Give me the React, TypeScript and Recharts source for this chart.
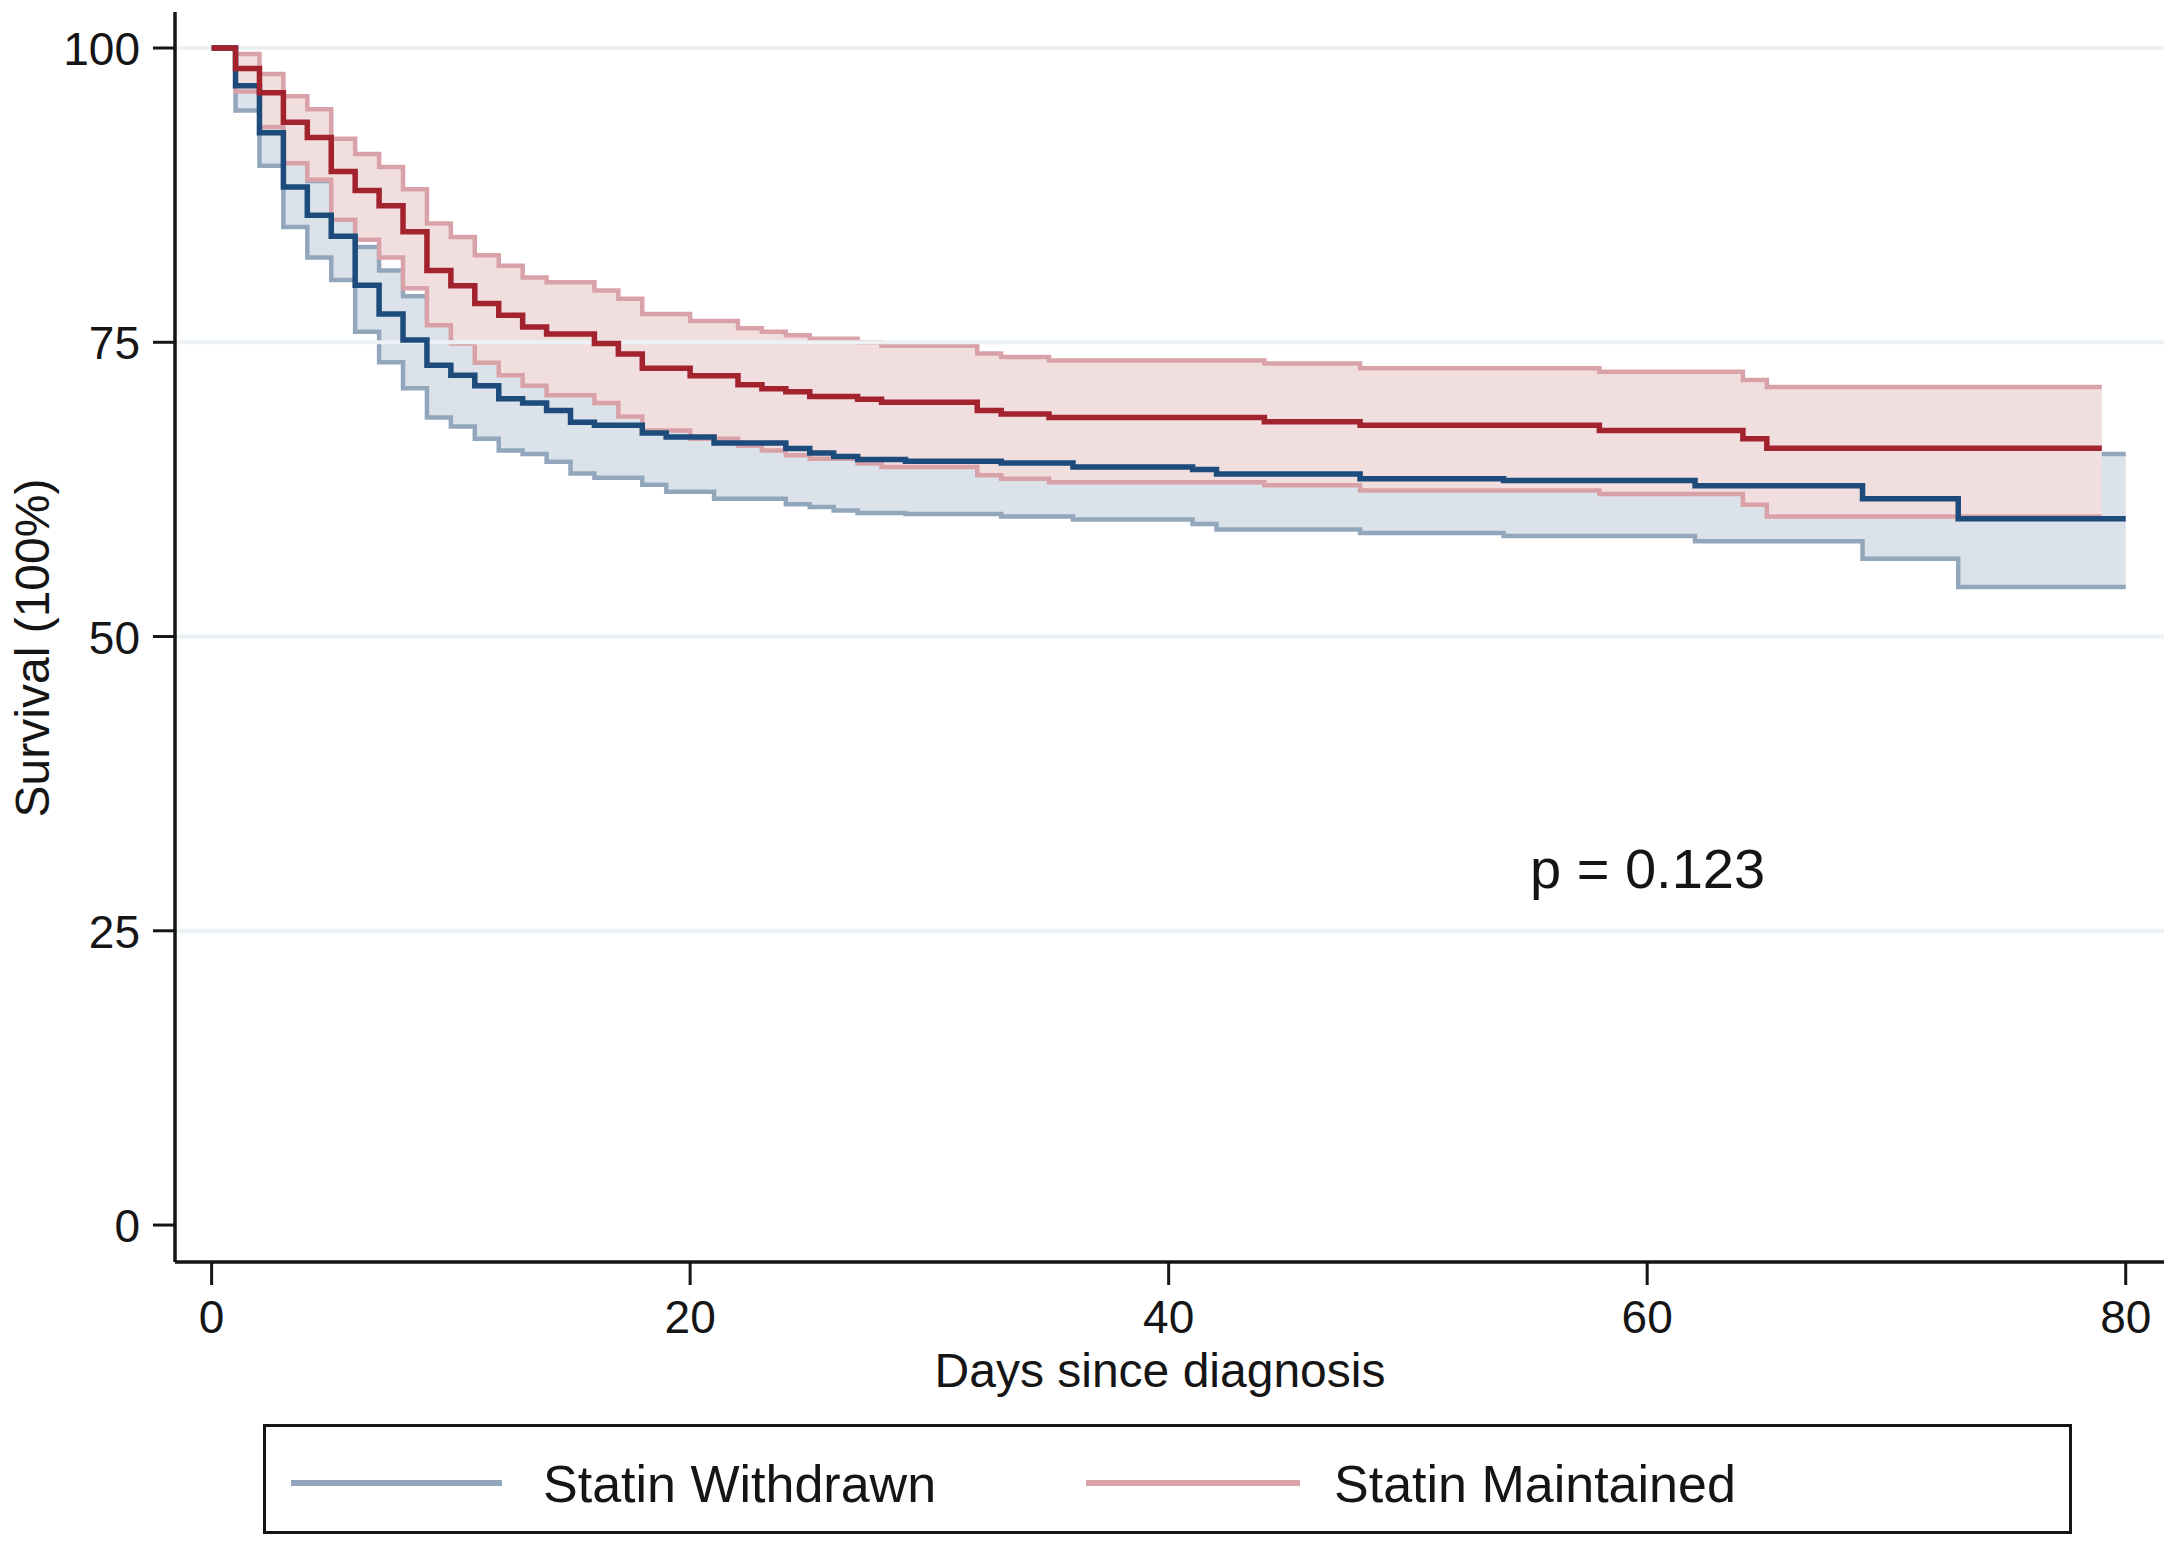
import React from "react";
import { ComposedChart, Line, Area, XAxis, YAxis, ReferenceLine, Customized } from "recharts";

// Statin Maintained (red): step change days, survival %, 95% CI
const redDays = [0, 1, 2, 3, 4, 5, 6, 7, 8, 9, 10, 11, 12, 13, 14, 16, 17, 18, 20, 22, 23, 24, 25, 27, 28, 32, 33, 35, 44, 48, 58, 64, 65, 79];
const redSurv = [100, 98.25, 96.2, 93.7, 92.4, 89.5, 87.9, 86.6, 84.4, 81.1, 79.8, 78.3, 77.3, 76.3, 75.7, 74.9, 74.0, 72.8, 72.15, 71.4, 71.05, 70.8, 70.4, 70.15, 69.9, 69.2, 68.9, 68.6, 68.25, 67.95, 67.5, 66.8, 66.0, 66.0];
const redLower = [100, 96.3, 93.3, 90.2, 88.8, 85.4, 83.7, 82.2, 79.6, 76.45, 74.9, 73.25, 72.2, 71.3, 70.5, 69.85, 68.7, 67.5, 66.8, 66.2, 65.8, 65.4, 65.1, 64.7, 64.4, 63.7, 63.4, 63.1, 62.85, 62.4, 62.1, 61.2, 60.2, 60.2];
const redUpper = [100, 99.5, 97.8, 95.9, 94.8, 92.3, 91.0, 89.9, 88.0, 85.1, 83.95, 82.4, 81.5, 80.5, 80.1, 79.4, 78.7, 77.4, 76.8, 76.2, 75.9, 75.6, 75.3, 75.0, 74.7, 74.05, 73.75, 73.45, 73.2, 72.8, 72.5, 71.8, 71.2, 71.2];

// Statin Withdrawn (blue)
const blueDays = [0, 1, 2, 3, 4, 5, 6, 7, 8, 9, 10, 11, 12, 13, 14, 15, 16, 18, 19, 21, 24, 25, 26, 27, 29, 33, 36, 41, 42, 48, 54, 62, 69, 73, 80];
const blueSurv = [100, 96.8, 92.8, 88.2, 85.8, 84.0, 79.85, 77.4, 75.2, 73.05, 72.2, 71.3, 70.2, 69.85, 69.2, 68.2, 67.95, 67.3, 66.95, 66.45, 65.97, 65.6, 65.3, 65.05, 64.9, 64.75, 64.4, 64.2, 63.8, 63.4, 63.25, 62.8, 61.7, 60.0, 60.0];
const blueLower = [100, 94.7, 90.0, 84.8, 82.2, 80.3, 75.9, 73.3, 71.1, 68.6, 67.85, 66.8, 65.8, 65.5, 64.85, 63.85, 63.5, 62.9, 62.3, 61.7, 61.24, 61.0, 60.7, 60.5, 60.4, 60.2, 59.95, 59.55, 59.1, 58.8, 58.55, 58.1, 56.6, 54.2, 54.2];
const blueUpper = [100, 98.5, 95.4, 91.3, 88.7, 87.0, 83.1, 81.1, 78.9, 77.1, 76.3, 75.4, 74.4, 74.0, 73.4, 72.4, 72.2, 71.6, 71.3, 70.9, 70.4, 70.0, 69.7, 69.4, 69.2, 69.1, 68.7, 68.6, 68.3, 67.8, 67.7, 67.3, 66.5, 65.5, 65.5];

const xTicks = [0, 20, 40, 60, 80];
const yTicks = [0, 25, 50, 75, 100];
const gridValues = [25, 50, 75, 100];

const seriesNames = ["Statin Withdrawn", "Statin Maintained"];
const xTitle = "Days since diagnosis";
const yTitle = "Survival (100%)";
const pText = "p = 0.123";

const redData = redDays.map((d, i) => ({ day: d, surv: redSurv[i], band: [redLower[i], redUpper[i]] }));
const blueData = blueDays.map((d, i) => ({ day: d, surv: blueSurv[i], band: [blueLower[i], blueUpper[i]] }));

const FONT = "'Liberation Sans', Arial, Helvetica, sans-serif";
const INK = "#151515";

const BLUE_MAIN = "#1c4b7c";
const BLUE_CI = "#92a7bc";
const BLUE_FILL = "#dbe2ea";
const RED_MAIN = "#a2222e";
const RED_CI = "#d9a2a8";
const RED_FILL = "#f1dedf";

const XTick = (props: any) => {
  const { x, y, payload } = props;
  return (
    <text x={x} y={y + 48} textAnchor="middle" fontSize={46} fontFamily={FONT} fill={INK}>
      {payload.value}
    </text>
  );
};

const YTick = (props: any) => {
  const { x, y, payload } = props;
  return (
    <text x={x - 13} y={y + 17} textAnchor="end" fontSize={46} fontFamily={FONT} fill={INK}>
      {payload.value}
    </text>
  );
};

const Texts = () => (
  <g>
    <text x={1160} y={1387} textAnchor="middle" fontSize={48} fontFamily={FONT} fill={INK}>
      {xTitle}
    </text>
    <text
      x={0}
      y={0}
      transform="translate(49 648) rotate(-90)"
      textAnchor="middle"
      fontSize={48}
      fontFamily={FONT}
      fill={INK}
    >
      {yTitle}
    </text>
    <text x={1530} y={888} textAnchor="start" fontSize={56} fontFamily={FONT} fill={INK}>
      {pText}
    </text>
  </g>
);

export default function App() {
  return (
    <div style={{ position: "absolute", left: 0, top: 0, width: 2175, height: 1546, background: "#fff" }}>
      <ComposedChart width={2175} height={1546} margin={{ top: 12, right: 11, left: 0, bottom: 0 }}>
        <XAxis
          type="number"
          dataKey="day"
          domain={[-1.53, 81.6]}
          ticks={xTicks}
          allowDataOverflow
          height={284}
          tickSize={23}
          tickMargin={0}
          axisLine={{ stroke: INK, strokeWidth: 3.5 }}
          tickLine={{ stroke: INK, strokeWidth: 3 }}
          tick={(p: any) => <XTick {...p} />}
        />
        <YAxis
          type="number"
          domain={[-3.14, 103.06]}
          ticks={yTicks}
          allowDataOverflow
          width={175}
          tickSize={22}
          tickMargin={0}
          axisLine={{ stroke: INK, strokeWidth: 3.5 }}
          tickLine={{ stroke: INK, strokeWidth: 3 }}
          tick={(p: any) => <YTick {...p} />}
        />
        {gridValues.map((v) => (
          <ReferenceLine key={v} y={v} stroke="#ebf1f4" strokeWidth={4} />
        ))}
        <Area
          data={blueData}
          dataKey="band"
          type="stepAfter"
          stroke={BLUE_CI}
          strokeWidth={4.5}
          fill={BLUE_FILL}
          fillOpacity={1}
          dot={false}
          activeDot={false}
          isAnimationActive={false}
          name={seriesNames[0] + " CI"}
        />
        <Area
          data={redData}
          dataKey="band"
          type="stepAfter"
          stroke={RED_CI}
          strokeWidth={4.5}
          fill={RED_FILL}
          fillOpacity={1}
          dot={false}
          activeDot={false}
          isAnimationActive={false}
          name={seriesNames[1] + " CI"}
        />
        <Line
          data={blueData}
          dataKey="surv"
          type="stepAfter"
          stroke={BLUE_MAIN}
          strokeWidth={5.5}
          dot={false}
          activeDot={false}
          isAnimationActive={false}
          name={seriesNames[0]}
        />
        <Line
          data={redData}
          dataKey="surv"
          type="stepAfter"
          stroke={RED_MAIN}
          strokeWidth={5.5}
          dot={false}
          activeDot={false}
          isAnimationActive={false}
          name={seriesNames[1]}
        />
        <Customized component={Texts} />
      </ComposedChart>
      <div
        style={{
          position: "absolute",
          left: 263,
          top: 1424,
          width: 1809,
          height: 110,
          border: `3.5px solid ${INK}`,
          boxSizing: "border-box",
          fontFamily: FONT,
          color: INK,
        }}
      >
        <div style={{ position: "absolute", left: 25, top: 53, width: 211, height: 6, background: BLUE_CI }} />
        <div style={{ position: "absolute", left: 277, top: 27, fontSize: 52, lineHeight: "60px", whiteSpace: "nowrap" }}>
          {seriesNames[0]}
        </div>
        <div style={{ position: "absolute", left: 820, top: 53, width: 214, height: 6, background: RED_CI }} />
        <div style={{ position: "absolute", left: 1068, top: 27, fontSize: 52, lineHeight: "60px", whiteSpace: "nowrap" }}>
          {seriesNames[1]}
        </div>
      </div>
    </div>
  );
}
